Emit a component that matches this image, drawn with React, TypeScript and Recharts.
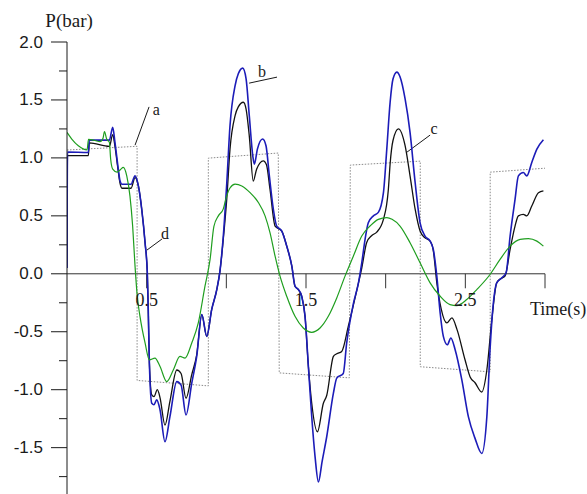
import React from 'react';
import { LineChart, Line, XAxis, YAxis, ReferenceLine, ReferenceDot } from 'recharts';

// Curve a: reference pressure (dotted square wave)
const timeA = [0, 0.44, 0.44, 0.887, 0.887, 1.326, 1.332, 1.772, 1.778, 2.217, 2.217, 2.656, 2.656, 3.0];
const pressureA = [1.068, 1.1, -0.92, -0.967, 0.998, 1.042, -0.855, -0.898, 0.938, 0.972, -0.802, -0.846, 0.877, 0.911];

// Curve b (blue)
const timeB = [
  0, 0.003, 0.134, 0.14, 0.266, 0.287, 0.301, 0.322, 0.333, 0.345, 0.402, 0.427, 0.448, 0.469, 0.49,
  0.504, 0.51, 0.517, 0.532, 0.546, 0.563, 0.584, 0.615, 0.646, 0.689, 0.716, 0.747, 0.783, 0.814, 0.846,
  0.877, 0.908, 0.94, 0.96, 0.981, 1.003, 1.023, 1.055, 1.075, 1.103, 1.124, 1.144, 1.166, 1.176, 1.195,
  1.228, 1.249, 1.27, 1.295, 1.316, 1.348, 1.379, 1.411, 1.431, 1.452, 1.473, 1.494, 1.515, 1.536, 1.557,
  1.578, 1.601, 1.63, 1.672, 1.693, 1.734, 1.755, 1.797, 1.829, 1.85, 1.871, 1.891, 1.923, 1.954, 1.986,
  2.007, 2.028, 2.046, 2.07, 2.09, 2.122, 2.153, 2.185, 2.216, 2.247, 2.279, 2.299, 2.321, 2.342, 2.362,
  2.387, 2.409, 2.436, 2.478, 2.519, 2.561, 2.603, 2.635, 2.655, 2.676, 2.697, 2.729, 2.756, 2.781, 2.812,
  2.833, 2.864, 2.886, 2.917, 2.949, 2.99,
];
const pressureB = [
  0.05, 1.05, 1.047, 1.153, 1.153, 1.264, 1.134, 0.903, 0.8, 0.773, 0.773, 0.845, 0.758, 0.557, 0.268,
  0.01, -0.31, -0.77, -1.117, -1.13, -1.088, -1.175, -1.449, -1.233, -0.93, -0.96, -1.218, -0.944, -0.713, -0.352,
  -0.54, -0.309, -0.136, 0.023, 0.326, 0.788, 1.278, 1.624, 1.726, 1.775, 1.682, 1.365, 1.018, 0.946, 1.076,
  1.163, 1.105, 0.845, 0.557, 0.412, 0.369, 0.239, 0.066, -0.107, -0.136, -0.194, -0.367, -0.8, -1.233, -1.579,
  -1.796, -1.62, -1.406, -1.03, -0.9, -0.86, -0.6, -0.26, -0.08, 0.095, 0.3, 0.44, 0.5, 0.53, 0.7,
  1.076, 1.48, 1.68, 1.74, 1.7, 1.509, 1.221, 0.788, 0.44, 0.326, 0.282, 0.21, -0.02, -0.338, -0.54,
  -0.612, -0.554, -0.655, -0.915, -1.233, -1.42, -1.55, -1.233, -0.655, -0.251, -0.078, -0.035, 0.009, 0.326, 0.643,
  0.845, 0.874, 0.845, 0.961, 1.076, 1.157,
];

// Curve c (black)
const timeC = [
  0, 0.003, 0.134, 0.14, 0.266, 0.287, 0.301, 0.322, 0.333, 0.345, 0.402, 0.427, 0.448, 0.469, 0.49,
  0.504, 0.51, 0.517, 0.532, 0.546, 0.567, 0.584, 0.615, 0.646, 0.689, 0.716, 0.747, 0.783, 0.814, 0.846,
  0.877, 0.908, 0.94, 0.96, 0.981, 1.003, 1.023, 1.055, 1.075, 1.107, 1.124, 1.144, 1.169, 1.19, 1.232,
  1.252, 1.274, 1.306, 1.348, 1.379, 1.411, 1.431, 1.452, 1.473, 1.494, 1.515, 1.536, 1.572, 1.609, 1.63,
  1.672, 1.693, 1.724, 1.766, 1.819, 1.85, 1.881, 1.913, 1.944, 1.986, 2.017, 2.028, 2.046, 2.08, 2.122,
  2.153, 2.185, 2.216, 2.247, 2.279, 2.299, 2.321, 2.348, 2.384, 2.416, 2.448, 2.498, 2.53, 2.561, 2.603,
  2.635, 2.666, 2.697, 2.724, 2.749, 2.781, 2.812, 2.833, 2.864, 2.886, 2.917, 2.959, 2.99,
];
const pressureC = [
  0.05, 1.02, 1.02, 1.13, 1.1, 1.2, 1.1, 0.88, 0.78, 0.738, 0.738, 0.83, 0.758, 0.557, 0.268,
  0.01, -0.31, -0.77, -1.045, -1.06, -1.0, -1.07, -1.305, -1.1, -0.83, -0.86, -1.074, -0.87, -0.7, -0.352,
  -0.54, -0.309, -0.136, 0.023, 0.3, 0.65, 1.076, 1.365, 1.44, 1.48, 1.42, 1.19, 0.8, 0.903, 0.975,
  0.94, 0.73, 0.412, 0.369, 0.239, 0.066, -0.107, -0.136, -0.194, -0.367, -0.8, -1.117, -1.363, -1.117, -1.05,
  -0.713, -0.69, -0.67, -0.45, -0.14, 0.05, 0.27, 0.33, 0.36, 0.47, 0.73, 0.95, 1.15, 1.25, 1.105,
  0.845, 0.557, 0.369, 0.31, 0.282, 0.2, -0.078, -0.3, -0.424, -0.381, -0.482, -0.742, -0.89, -0.94, -1.02,
  -0.83, -0.4, -0.078, -0.04, -0.02, 0.21, 0.412, 0.5, 0.513, 0.5, 0.585, 0.7, 0.715,
];

// Curve d (green)
const timeD = [
  0, 0.03, 0.071, 0.126, 0.135, 0.176, 0.207, 0.226, 0.235, 0.249, 0.266, 0.274, 0.287, 0.314, 0.336,
  0.353, 0.375, 0.395, 0.412, 0.427, 0.441, 0.458, 0.49, 0.517, 0.552, 0.584, 0.626, 0.667, 0.709, 0.741,
  0.783, 0.824, 0.866, 0.898, 0.922, 0.95, 0.981, 1.002, 1.023, 1.055, 1.097, 1.149, 1.201, 1.243, 1.274,
  1.306, 1.337, 1.379, 1.431, 1.483, 1.536, 1.588, 1.64, 1.693, 1.745, 1.797, 1.85, 1.902, 1.954, 2.007,
  2.04, 2.09, 2.153, 2.216, 2.279, 2.342, 2.404, 2.446, 2.509, 2.572, 2.655, 2.718, 2.781, 2.844, 2.896,
  2.949, 2.99,
];
const pressureD = [
  1.22, 1.163, 1.105, 1.07, 1.16, 1.15, 1.14, 1.17, 1.226, 1.163, 1.134, 0.99, 0.903, 0.877, 0.9,
  0.918, 0.845, 0.672, 0.412, 0.066, -0.194, -0.367, -0.597, -0.742, -0.727, -0.8, -0.93, -0.83, -0.713, -0.727,
  -0.597, -0.424, -0.107, 0.124, 0.41, 0.5, 0.56, 0.67, 0.74, 0.773, 0.758, 0.7, 0.615, 0.5, 0.355,
  0.152, -0.02, -0.194, -0.367, -0.468, -0.505, -0.468, -0.367, -0.208, -0.02, 0.152, 0.326, 0.412, 0.47, 0.485,
  0.47, 0.412, 0.268, 0.095, -0.078, -0.194, -0.266, -0.274, -0.222, -0.136, -0.006, 0.124, 0.239, 0.297, 0.303,
  0.282, 0.239,
];

// Axis ticks and labels
const yTicks = [2, 1.75, 1.5, 1.25, 1, 0.75, 0.5, 0.25, 0, -0.25, -0.5, -0.75, -1, -1.25, -1.5, -1.75];
const xTicks = [0.5, 1, 1.5, 2, 2.5, 3];
const xLabelValues = [0.5, 1.5, 2.5];
const xLabelTexts = ['0.5', '1.5', '2.5'];

// Curve markers: leader line ends and letter positions
const markerNames = ['a', 'b', 'c', 'd'];
const markerLines = [
  [[0.427, 1.11], [0.515, 1.44]],
  [[1.143, 1.645], [1.318, 1.697]],
  [[2.134, 1.05], [2.279, 1.197]],
  [[0.502, 0.205], [0.596, 0.3]],
];
const markerText = [[0.56, 1.42], [1.224, 1.75], [2.304, 1.257], [0.615, 0.352]];

const zip = (ts: number[], ps: number[]) => ts.map((t, i) => ({ t, p: ps[i] }));
const dataA = zip(timeA, pressureA);
const dataB = zip(timeB, pressureB);
const dataC = zip(timeC, pressureC);
const dataD = zip(timeD, pressureD);

const SERIF = '"Liberation Serif", "Times New Roman", serif';
const SANS = '"Liberation Sans", Arial, sans-serif';
const INK = '#1a1a1a';

function YTick(props: any) {
  const { x, y, payload } = props;
  const v = payload.value as number;
  const major = Math.abs(v * 2 - Math.round(v * 2)) < 1e-6;
  return (
    <g>
      <line x1={x} x2={x - (major ? 16 : 8)} y1={y} y2={y} stroke={INK} strokeWidth={1} />
      {major && (
        <text x={x - 24} y={y} textAnchor="end" dominantBaseline="central" fontFamily={SANS} fontSize={17} fill={INK}>
          {v.toFixed(1)}
        </text>
      )}
    </g>
  );
}

const textLabel = (value: string, size: number) => ({
  value,
  position: 'center' as const,
  fontFamily: SERIF,
  fontSize: size,
  fill: INK,
});

export default function App() {
  return (
    <div style={{ position: 'absolute', left: 0, top: 0, width: 587, height: 494, background: '#fff' }}>
      <LineChart width={587} height={494} margin={{ top: 42, right: 42, bottom: 0, left: 0 }}>
        <XAxis dataKey="t" type="number" domain={[0, 3]} hide allowDataOverflow />
        <YAxis
          type="number"
          domain={[-1.9, 2]}
          ticks={yTicks}
          interval={0}
          tick={<YTick />}
          tickLine={false}
          tickSize={0}
          tickMargin={0}
          width={67}
          axisLine={{ stroke: INK, strokeWidth: 1 }}
          allowDataOverflow
        />
        <ReferenceLine y={0} stroke="#333" strokeWidth={1} />
        {xTicks.map((t) => (
          <ReferenceLine key={`xt${t}`} segment={[{ x: t, y: 0 }, { x: t, y: -0.125 }]} stroke="#333" strokeWidth={1} />
        ))}
        {xLabelValues.map((t, i) => (
          <ReferenceDot key={`xl${t}`} x={t} y={-0.226} r={0} fill="none" stroke="none" label={textLabel(xLabelTexts[i], 18)} />
        ))}
        <ReferenceDot x={3.082} y={-0.3} r={0} fill="none" stroke="none" ifOverflow="visible" label={textLabel('Time(s)', 18)} />
        <ReferenceDot x={0.013} y={2.19} r={0} fill="none" stroke="none" ifOverflow="visible" label={textLabel('P(bar)', 19)} />
        {markerNames.map((name, i) => (
          <ReferenceLine
            key={`ml${name}`}
            segment={[{ x: markerLines[i][0][0], y: markerLines[i][0][1] }, { x: markerLines[i][1][0], y: markerLines[i][1][1] }]}
            stroke={INK}
            strokeWidth={1}
          />
        ))}
        {markerNames.map((name, i) => (
          <ReferenceDot key={`mt${name}`} x={markerText[i][0]} y={markerText[i][1]} r={0} fill="none" stroke="none" label={textLabel(name, 16)} />
        ))}
        <Line data={dataA} dataKey="p" type="linear" stroke="#8a8a8a" strokeWidth={1} strokeDasharray="1.5 1.5" dot={false} isAnimationActive={false} />
        <Line data={dataC} dataKey="p" type="monotone" stroke="#111111" strokeWidth={1.3} dot={false} isAnimationActive={false} />
        <Line data={dataB} dataKey="p" type="monotone" stroke="#1c1cb8" strokeWidth={1.6} dot={false} isAnimationActive={false} />
        <Line data={dataD} dataKey="p" type="monotone" stroke="#1f9e1f" strokeWidth={1.2} dot={false} isAnimationActive={false} />
      </LineChart>
    </div>
  );
}
